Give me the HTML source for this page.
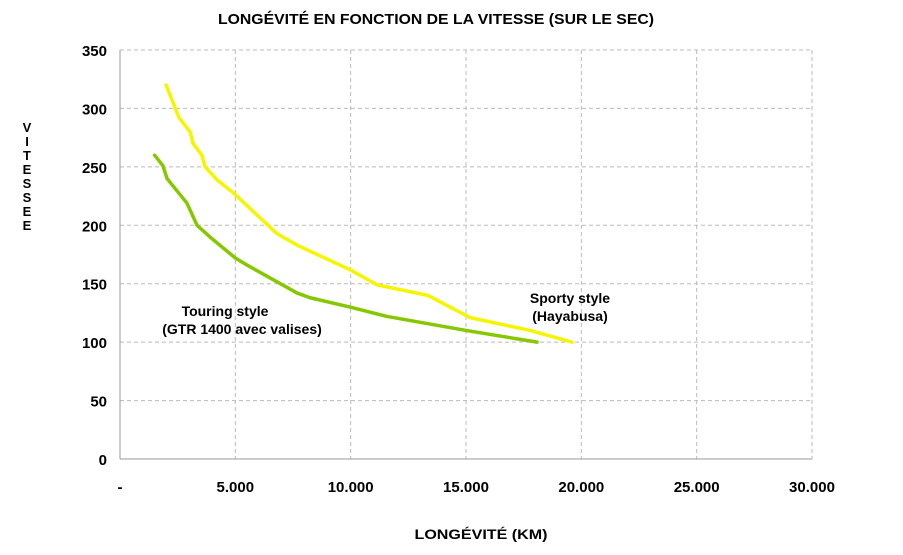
<!DOCTYPE html>
<html><head><meta charset="utf-8"><style>
body{margin:0;background:#fff;font-family:"Liberation Sans",sans-serif;}
svg text{font-family:"Liberation Sans",sans-serif;}
</style></head><body>
<svg id="chart" width="903" height="550">
<text x="436" y="24" text-anchor="middle" font-size="15" font-weight="bold" textLength="436" lengthAdjust="spacingAndGlyphs">LONGÉVITÉ EN FONCTION DE LA VITESSE (SUR LE SEC)</text>
<text x="481" y="539" text-anchor="middle" font-size="14" font-weight="bold" textLength="133" lengthAdjust="spacingAndGlyphs">LONGÉVITÉ (KM)</text>
<text font-size="13" font-weight="bold" text-anchor="middle">
<tspan x="27" y="132">V</tspan><tspan x="27" y="146">I</tspan><tspan x="27" y="160">T</tspan><tspan x="27" y="174">E</tspan><tspan x="27" y="188">S</tspan><tspan x="27" y="202">S</tspan><tspan x="27" y="216">E</tspan><tspan x="27" y="230">E</tspan></text>
<g id="grid"></g><g id="series"></g><g id="labels"></g>
<text x="225" y="316" text-anchor="middle" font-size="14" font-weight="bold">Touring style</text>
<text x="242" y="334" text-anchor="middle" font-size="14" font-weight="bold">(GTR 1400 avec valises)</text>
<text x="570" y="303" text-anchor="middle" font-size="14" font-weight="bold">Sporty style</text>
<text x="570" y="321" text-anchor="middle" font-size="14" font-weight="bold">(Hayabusa)</text>
</svg>
<script>
const xTicks=[0,5000,10000,15000,20000,25000,30000];
const xTickLabels=["-","5.000","10.000","15.000","20.000","25.000","30.000"];
const yTicks=[0,50,100,150,200,250,300,350];
const sportyX=[2000,2560,3040,3170,3550,3690,4200,4900,6800,7680,9970,11150,13350,15180,17780,19600];
const sportyY=[320,292,280,270,260,250,239,228,193,183,162,149,140,121,110,100];
const touringX=[1500,1860,2040,2900,3340,3900,5000,5500,7680,8240,9970,11580,15000,18080];
const touringY=[260,251,240,219,200,190,172,166,142,138,130,122,110,100];
const X0=120,X1=812,Y0=459,Y1=50;
const sx=v=>X0+(v/30000)*(X1-X0), sy=v=>Y0-(v/350)*(Y0-Y1);
const NS="http://www.w3.org/2000/svg";
const grid=document.getElementById('grid'),lab=document.getElementById('labels'),ser=document.getElementById('series');
function mk(t,a,p){const e=document.createElementNS(NS,t);for(const k in a)e.setAttribute(k,a[k]);p.appendChild(e);return e;}
yTicks.forEach(v=>{
 if(v>0){const l=mk('line',{x1:X0,x2:X1,y1:sy(v),y2:sy(v),stroke:'#bbb','stroke-dasharray':'4,3'},grid);
 
 }
 const t=mk('text',{x:107,y:sy(v)+6,'text-anchor':'end','font-size':15,'font-weight':'bold'},lab);t.textContent=v;
 
 
});
xTicks.forEach((v,i)=>{
 if(v>0){const l=mk('line',{x1:sx(v),x2:sx(v),y1:Y1,y2:Y0,stroke:'#bbb','stroke-dasharray':'4,3'},grid);
 
 }
 const t=mk('text',{x:sx(v),y:492,'text-anchor':'middle','font-size':15,'font-weight':'bold'},lab);t.textContent=xTickLabels[i];
 
 
});
const ax=mk('line',{x1:X0,x2:X0,y1:Y1,y2:Y0,stroke:'#999'},grid);


const ax2=mk('line',{x1:X0,x2:X1,y1:Y0,y2:Y0,stroke:'#999'},grid);


function line(xs,ys,c){return mk('polyline',{points:xs.map((x,i)=>sx(x)+','+sy(ys[i])).join(' '),fill:'none',stroke:c,'stroke-width':3.5,'stroke-linejoin':'round','stroke-linecap':'round'},ser);}
const s1=line(sportyX,sportyY,'#f5f500');


const s2=line(touringX,touringY,'#86c800');


</script>
</body></html>
